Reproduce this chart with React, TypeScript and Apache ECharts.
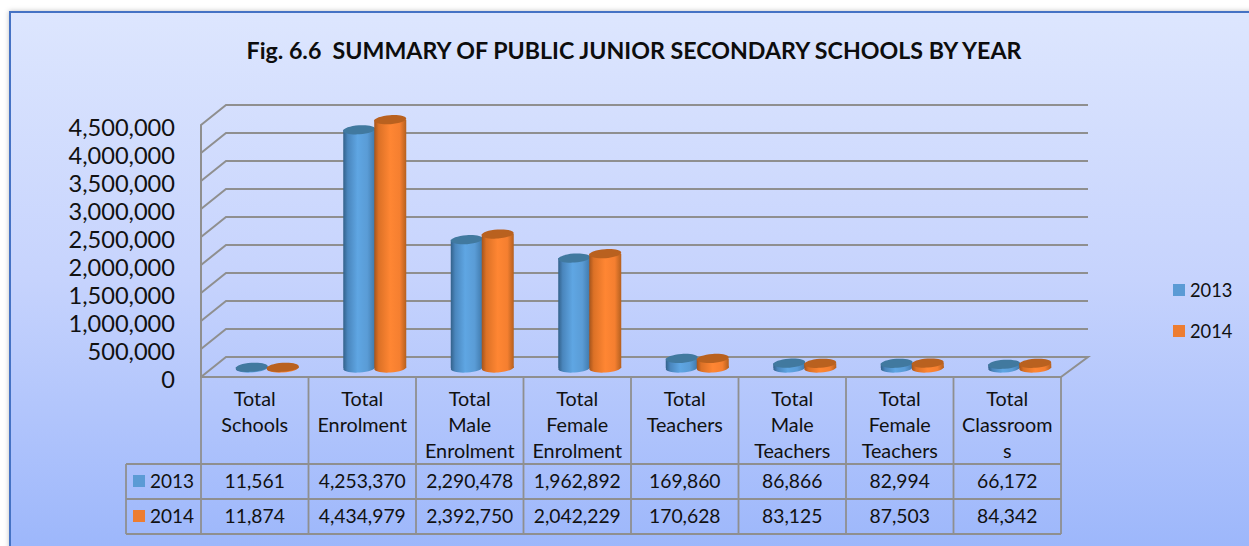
import React, { useEffect, useRef } from "react";
import * as echarts from "echarts";

const titleText = "Fig. 6.6  SUMMARY OF PUBLIC JUNIOR SECONDARY SCHOOLS BY YEAR";
const categories = [
  "Total\nSchools",
  "Total\nEnrolment",
  "Total\nMale\nEnrolment",
  "Total\nFemale\nEnrolment",
  "Total\nTeachers",
  "Total\nMale\nTeachers",
  "Total\nFemale\nTeachers",
  "Total\nClassroom\ns",
];
const values2013 = [11561, 4253370, 2290478, 1962892, 169860, 86866, 82994, 66172];
const values2014 = [11874, 4434979, 2392750, 2042229, 170628, 83125, 87503, 84342];
const yTicks = [0, 500000, 1000000, 1500000, 2000000, 2500000, 3000000, 3500000, 4000000, 4500000];
const seriesNames = ["2013", "2014"];

const FONT = "Lato";
const LINE = "#8f8f8f";
const TEXT = "#111111";
const BACK_DX = 25;
const BACK_DX_R = 27;
const BACK_DY = -20;
const BAR_DX = 12.5;
const BAR_DY = -9;
const BAR_W = 31;
const TILT = 0.07;
const ROW_Y = [464, 499, 534];
const TABLE_LEFT = 126;
const TABLE_LW = 1.8;

const blueBody = [
  [0, "#33618a"], [0.14, "#4a86bd"], [0.45, "#5fa6e3"], [0.75, "#5a9cd6"], [1, "#3f78aa"],
];
const orangeBody = [
  [0, "#a5541c"], [0.14, "#dc7126"], [0.5, "#ff8633"], [0.8, "#f57f30"], [1, "#b5601f"],
];
const keyColors = ["#5b9bd5", "#ed7d31"];
const topColors = ["#41799f", "#b9611f"];

function gradient(stops: any[]) {
  return new echarts.graphic.LinearGradient(
    0, 0, 1, 0,
    stops.map((s) => ({ offset: s[0], color: s[1] }))
  );
}

function cylinder(which: number) {
  return (params: any, api: any) => {
    const i = api.value(0);
    const base = api.coord([i, 0]);
    const top = api.coord([i, api.value(1)]);
    const cx = base[0] + BAR_DX + (which === 0 ? -BAR_W / 2 : BAR_W / 2);
    const yBase = base[1] + BAR_DY;
    const yTop = top[1] + BAR_DY;
    const rx = BAR_W / 2 + 0.5;
    const ry = 4.5;
    const fill = gradient(which === 0 ? blueBody : orangeBody);
    const ell = (cy: number, f: any) => ({
      type: "ellipse",
      x: cx, y: cy, rotation: TILT,
      shape: { cx: 0, cy: 0, rx, ry },
      style: { fill: f },
    });
    return {
      type: "group",
      children: [
        ell(yBase, fill),
        {
          type: "rect",
          shape: { x: cx - rx, y: yTop, width: rx * 2, height: Math.max(yBase - yTop, 0) },
          style: { fill },
        },
        ell(yTop, topColors[which]),
      ],
    };
  };
}

function wallItem(params: any, api: any) {
  const p = api.coord([0, api.value(0)]);
  const cs = params.coordSys;
  const x0 = cs.x;
  const x1 = cs.x + cs.width;
  const y = p[1];
  const isFloor = api.value(0) === 0;
  const pts = [
    [x0, y],
    [x0 + BACK_DX, y + BACK_DY],
    [x1 + BACK_DX_R, y + BACK_DY],
  ];
  if (isFloor) pts.push([x1, y]);
  return {
    type: "polyline",
    shape: { points: pts },
    style: { stroke: LINE, lineWidth: 2, fill: "none" },
  };
}

function tableItem(params: any, api: any) {
  const i = api.value(0);
  const cs = params.coordSys;
  const step = cs.width / categories.length;
  const cx = api.coord([i, 0])[0];
  const left = cs.x + i * step;
  const bottom = cs.y + cs.height;
  const children: any[] = [
    {
      type: "line",
      shape: { x1: left + step, y1: bottom, x2: left + step, y2: ROW_Y[2] },
      style: { stroke: LINE, lineWidth: TABLE_LW },
    },
  ];
  [api.value(1), api.value(2)].forEach((v: number, r: number) => {
    children.push({
      type: "text",
      x: cx, y: (ROW_Y[r] + ROW_Y[r + 1]) / 2 - 1.5,
      style: {
        text: v.toLocaleString("en-US"),
        font: `19.3px ${FONT}`, fill: TEXT, align: "center", verticalAlign: "middle",
      },
    });
  });
  if (i === 0) {
    children.push({
      type: "line",
      shape: { x1: left, y1: bottom, x2: left, y2: ROW_Y[2] },
      style: { stroke: LINE, lineWidth: TABLE_LW },
    });
    ROW_Y.forEach((y) => {
      children.push({
        type: "line",
        shape: { x1: TABLE_LEFT, y1: y, x2: cs.x + cs.width, y2: y },
        style: { stroke: LINE, lineWidth: TABLE_LW },
      });
    });
    children.push({
      type: "line",
      shape: { x1: TABLE_LEFT, y1: ROW_Y[0], x2: TABLE_LEFT, y2: ROW_Y[2] },
      style: { stroke: LINE, lineWidth: TABLE_LW },
    });
    seriesNames.forEach((n, r) => {
      const my = (ROW_Y[r] + ROW_Y[r + 1]) / 2;
      children.push({
        type: "rect",
        shape: { x: 133, y: my - 6.5, width: 12, height: 12 },
        style: { fill: keyColors[r] },
      });
      children.push({
        type: "text",
        x: 150, y: my - 1.5,
        style: {
          text: n, font: `19px ${FONT}`, fill: TEXT, align: "left", verticalAlign: "middle",
        },
      });
    });
  }
  return { type: "group", children };
}

export default function App() {
  const ref = useRef<HTMLDivElement>(null);
  useEffect(() => {
    const chart = echarts.init(ref.current!, undefined, { renderer: "svg" });
    chart.setOption({
      animation: false,
      backgroundColor: "#ffffff",
      title: {
        text: titleText,
        left: 629, top: 33, textAlign: "center",
        textStyle: { fontFamily: FONT, fontSize: 23.2, fontWeight: "bold", color: "#0d0d0d" },
      },
      legend: {
        data: seriesNames,
        orient: "vertical", left: 1168, top: 276,
        itemWidth: 12, itemHeight: 12, itemGap: 23, icon: "rect",
        textStyle: { fontFamily: FONT, fontSize: 18.3, color: TEXT },
      },
      graphic: [
        {
          type: "rect", z: -100, silent: true,
          shape: { x: 10, y: 12, width: 1400, height: 700 },
          style: {
            stroke: "#4472c4", lineWidth: 2,
            shadowBlur: 5, shadowColor: "rgba(0,0,0,0.25)",
            fill: new echarts.graphic.LinearGradient(0, 0, 0, 0.763, [
              { offset: 0, color: "#dde6fe" },
              { offset: 0.5, color: "#c6d3fd" },
              { offset: 1, color: "#9db7fb" },
            ]),
          },
        },
      ],
      grid: { left: 201, top: 125, width: 860, height: 252 },
      xAxis: {
        type: "category",
        data: categories,
        axisLine: { show: true, lineStyle: { color: LINE, width: 2 } },
        axisTick: { show: false },
        axisLabel: {
          interval: 0, margin: 8, fontFamily: FONT, fontSize: 19.8,
          lineHeight: 26, color: TEXT, verticalAlign: "top",
        },
      },
      yAxis: {
        type: "value", min: 0, max: 4500000, interval: 500000,
        splitLine: { show: false },
        axisTick: { show: false },
        axisLine: { show: true, lineStyle: { color: LINE, width: 2 } },
        axisLabel: {
          margin: 26, fontFamily: FONT, fontSize: 23.6, color: TEXT,
          verticalAlign: "top", lineHeight: 24, padding: [-10, 0, 0, 0],
          formatter: (v: number) => v.toLocaleString("en-US"),
        },
      },
      series: [
        {
          type: "custom", name: "walls", silent: true, z: 1,
          coordinateSystem: "cartesian2d",
          data: yTicks.map((v) => [v]),
          encode: { y: 0 },
          renderItem: wallItem,
        },
        {
          type: "custom", name: "table", silent: true, z: 1,
          data: categories.map((_, i) => [i, values2013[i], values2014[i]]),
          encode: { x: 0 },
          renderItem: tableItem,
        },
        {
          type: "custom", name: seriesNames[0], z: 3,
          itemStyle: { color: keyColors[0] },
          data: values2013.map((v, i) => [i, v]),
          encode: { x: 0, y: 1 },
          renderItem: cylinder(0),
        },
        {
          type: "custom", name: seriesNames[1], z: 4,
          itemStyle: { color: keyColors[1] },
          data: values2014.map((v, i) => [i, v]),
          encode: { x: 0, y: 1 },
          renderItem: cylinder(1),
        },
      ],
    });
    return () => chart.dispose();
  }, []);
  return (
    <div
      ref={ref}
      style={{ position: "absolute", left: 0, top: 0, width: 1249, height: 546 }}
    />
  );
}
